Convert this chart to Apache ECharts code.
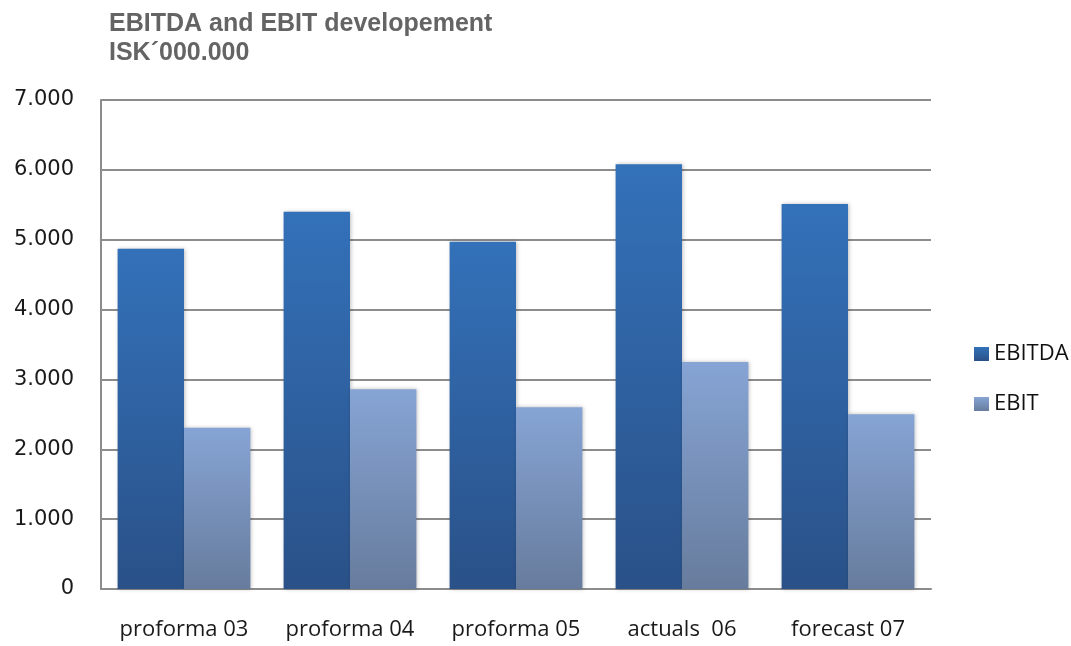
<!DOCTYPE html>
<html>
<head>
<meta charset="utf-8">
<script src="https://cdn.jsdelivr.net/npm/echarts@6/dist/echarts.min.js"></script>
<style>
  html, body { margin: 0; padding: 0; background: #fff; }
  #chart { width: 1071px; height: 646px; }
</style>
</head>
<body>
<div id="chart"></div>
<script>
const categories = ["proforma 03", "proforma 04", "proforma 05", "actuals  06", "forecast 07"];
const ebitda = [4870, 5400, 4970, 6080, 5510];
const ebit = [2310, 2860, 2600, 3250, 2500];

const grad = (top, bottom) =>
  new echarts.graphic.LinearGradient(0, 0, 0, 1, [
    { offset: 0, color: top },
    { offset: 1, color: bottom },
  ]);

const chart = echarts.init(document.getElementById("chart"));
chart.setOption({
  animation: false,
  backgroundColor: "#fff",
  title: {
    text: "EBITDA and EBIT developement\nISK´000.000",
    left: 104,
    top: 5,
    textStyle: {
      fontFamily: "Liberation Sans, Arial",
      fontSize: 25,
      fontWeight: "bold",
      color: "#646464",
      lineHeight: 29,
    },
  },
  legend: {
    orient: "vertical",
    left: 969,
    top: 338,
    itemWidth: 15,
    itemHeight: 14,
    itemGap: 28,
    icon: "rect",
    textStyle: { fontFamily: "Open Sans", fontSize: 22, lineHeight: 22, color: "#111" },
    data: ["EBITDA", "EBIT"],
  },
  grid: { left: 101, right: 140, top: 100, bottom: 57 },
  xAxis: {
    type: "category",
    data: categories,
    axisTick: { show: false },
    axisLine: { lineStyle: { color: "#8c8c8c", width: 2 } },
    axisLabel: {
      interval: 0,
      margin: 30,
      fontFamily: "Open Sans",
      fontSize: 22,
      lineHeight: 22,
      color: "#1a1a1a",
    },
  },
  yAxis: {
    type: "value",
    min: 0,
    max: 7000,
    interval: 1000,
    axisLine: { show: true, lineStyle: { color: "#8c8c8c", width: 2 } },
    axisTick: { show: false },
    splitLine: { lineStyle: { color: "#8c8c8c", width: 2 } },
    axisLabel: {
      margin: 27,
      fontFamily: "DejaVu Sans",
      fontSize: 21,
      color: "#1a1a1a",
      formatter: (v) => (v === 0 ? "0" : (v / 1000).toFixed(0) + ".000"),
    },
  },
  series: [
    {
      name: "EBITDA",
      type: "bar",
      data: ebitda,
      barGap: "0%",
      barCategoryGap: "20%",
      itemStyle: {
        color: grad("#3371b9", "#2a5188"),
        shadowColor: "rgba(0,0,0,0.25)",
        shadowBlur: 4,
        shadowOffsetX: 1,
      },
    },
    {
      name: "EBIT",
      type: "bar",
      data: ebit,
      itemStyle: {
        color: grad("#86a4d4", "#677c9d"),
        shadowColor: "rgba(0,0,0,0.25)",
        shadowBlur: 4,
        shadowOffsetX: 1,
      },
    },
  ],
});
</script>
</body>
</html>
